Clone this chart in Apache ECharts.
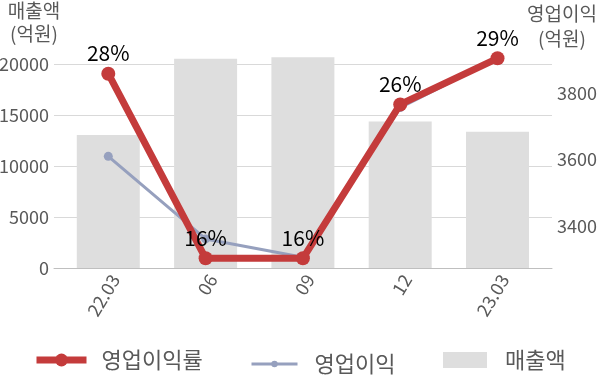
<!DOCTYPE html>
<html><head><meta charset="utf-8">
<script src="https://cdn.jsdelivr.net/npm/echarts@6/dist/echarts.min.js"></script>
<style>html,body{margin:0;padding:0;background:#fff}#c{width:600px;height:383px}</style>
</head><body><div id="c"></div>
<script>
const categories = ['22.03', '06', '09', '12', '23.03'];
const sales = [13050, 20520, 20650, 14360, 13350];
const opProfit = [3610, 3361, 3306, 3757, 3905];
const opMargin = [28, 16, 16, 26, 29];
const marginLabels = ['28%', '16%', '16%', '26%', '29%'];
const rightTicks = [3400, 3600, 3800];
const seriesNames = ['영업이익률', '영업이익', '매출액'];

const FONT = '"Noto Sans CJK KR", "Noto Sans", sans-serif';
const GRAY = '#595959';
const labelPos = categories.map((c, i) => i + 0.07);

const chart = echarts.init(document.getElementById('c'), null, {renderer: 'canvas'});
chart.setOption({
  animation: false,
  textStyle: {fontFamily: FONT},
  grid: {left: 54, right: 48, top: 64, bottom: 115, containLabel: false, outerBoundsMode: 'none'},
  xAxis: {
    type: 'value', min: -0.558, max: 4.56,
    axisLine: {show: true, lineStyle: {color: '#bfbfbf', width: 1}},
    axisTick: {show: false},
    splitLine: {show: false},
    axisLabel: {
      customValues: labelPos,
      formatter: v => categories[Math.round(v)],
      rotate: 59, margin: 8, fontSize: 18, color: GRAY, fontFamily: FONT
    }
  },
  yAxis: [
    {type: 'value', min: 0, max: 20000, interval: 5000, position: 'left',
     axisLine: {show: false}, axisTick: {show: false},
     splitLine: {lineStyle: {color: '#d9d9d9', width: 1}},
     axisLabel: {fontSize: 18, color: GRAY, margin: 5, fontFamily: FONT, formatter: v => String(v)}},
    {type: 'value', min: 3273.3, max: 3888.4, position: 'right',
     axisLine: {show: false}, axisTick: {show: false}, splitLine: {show: false},
     axisLabel: {customValues: rightTicks, fontSize: 18, color: GRAY, margin: 5, fontFamily: FONT, formatter: v => String(v)}},
    {type: 'value', min: 15.37, max: 28.63, show: false, splitLine: {show: false}}
  ],
  legend: [
    {data: [seriesNames[0]], left: 33, top: 349, padding: 0, itemWidth: 50, itemHeight: 16, itemGap: 0,
     lineStyle: {width: 7},
     textStyle: {fontSize: 22, color: GRAY, fontFamily: FONT, padding: [0, 0, 0, 10]}},
    {data: [seriesNames[1]], left: 250, top: 353, padding: 0, itemWidth: 46, itemHeight: 8, itemGap: 0,
     lineStyle: {width: 3},
     textStyle: {fontSize: 22, color: GRAY, fontFamily: FONT, padding: [0, 0, 0, 12]}},
    {data: [{name: seriesNames[2], icon: 'rect'}], left: 443, top: 349, padding: 0, itemWidth: 44, itemHeight: 16, itemGap: 0,
     textStyle: {fontSize: 22, color: GRAY, fontFamily: FONT, padding: [0, 0, 0, 13]}}
  ],
  graphic: [
    {type: 'text', style: {text: '매출액', x: 34, y: 11, align: 'center', verticalAlign: 'middle', font: '19px ' + FONT, fill: GRAY}},
    {type: 'text', style: {text: '(억원)', x: 34, y: 33.5, align: 'center', verticalAlign: 'middle', font: '19px ' + FONT, fill: GRAY}},
    {type: 'text', style: {text: '영업이익', x: 562, y: 13.5, align: 'center', verticalAlign: 'middle', font: '19px ' + FONT, fill: GRAY}},
    {type: 'text', style: {text: '(억원)', x: 562, y: 39, align: 'center', verticalAlign: 'middle', font: '19px ' + FONT, fill: GRAY}}
  ],
  series: [
    {name: seriesNames[2], type: 'bar', yAxisIndex: 0, barWidth: 63, clip: false,
     itemStyle: {color: '#dedede'}, z: 1,
     data: sales.map((v, i) => [i, v])},
    {name: seriesNames[1], type: 'line', yAxisIndex: 1, clip: false, z: 3,
     symbol: 'circle', symbolSize: 9,
     lineStyle: {color: '#96a0be', width: 3}, itemStyle: {color: '#96a0be'},
     data: opProfit.map((v, i) => [i, v])},
    {name: seriesNames[0], type: 'line', yAxisIndex: 2, clip: false, z: 4,
     symbol: 'circle', symbolSize: 14,
     lineStyle: {color: '#c43b3b', width: 7}, itemStyle: {color: '#c43b3b'},
     label: {show: true, position: 'top', distance: 3, fontSize: 21, color: '#000', fontFamily: FONT,
             formatter: p => marginLabels[p.dataIndex]},
     data: opMargin.map((v, i) => [i, v])}
  ]
});
</script></body></html>
